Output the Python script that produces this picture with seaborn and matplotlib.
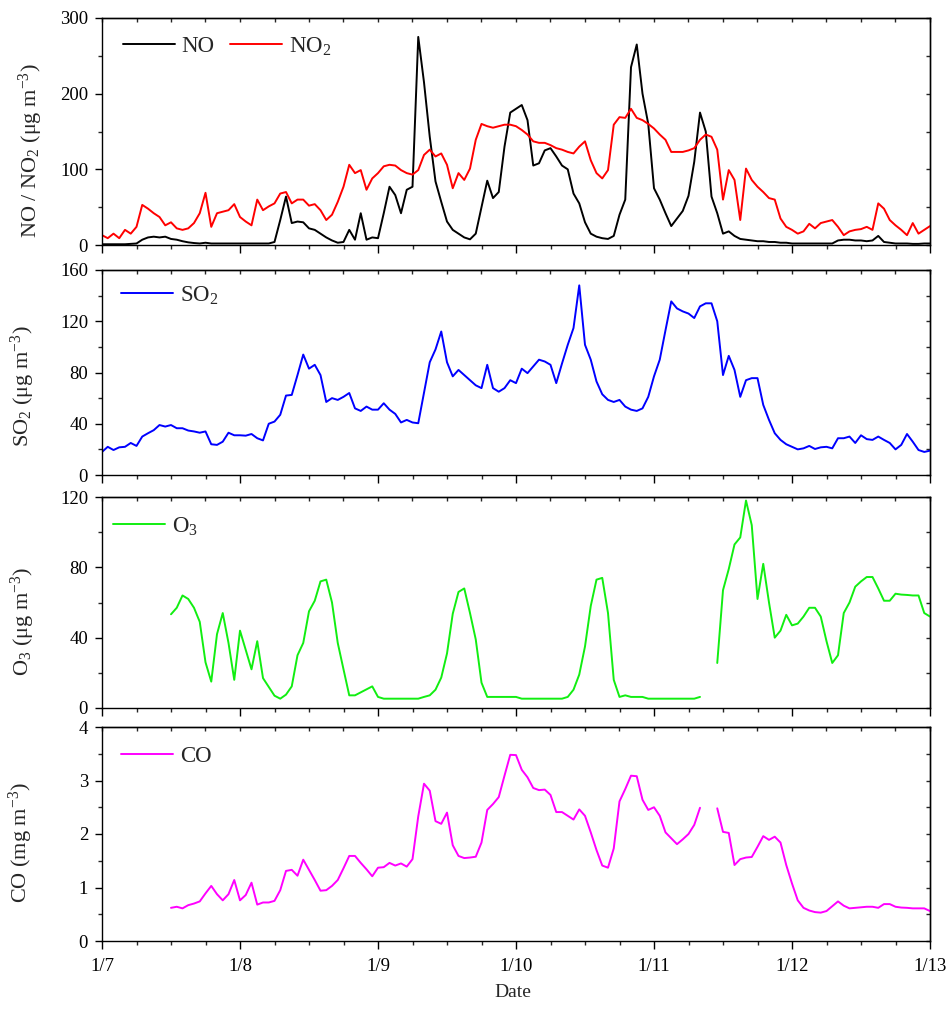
import numpy as np
import pandas as pd
import matplotlib
matplotlib.use("Agg")
import matplotlib.pyplot as plt
from matplotlib.lines import Line2D
from matplotlib.ticker import MultipleLocator
import seaborn as sns

# ---------------- data (hourly) ----------------
date_labels = ["1/7", "1/8", "1/9", "1/10", "1/11", "1/12", "1/13"]

# NO / NO2 / SO2 : hourly from 1/7 00:00 to 1/13 00:00 (145 values)
no = [1, 1, 1, 1, 1, 1.5, 2,
      7, 10, 11, 10, 11, 8, 7, 5, 3.5, 2.6, 2, 3,
      2, 2, 2, 2, 2, 2, 2, 2, 2, 2, 2,
      4, 33, 64, 29, 31, 30, 22, 20, 15, 10, 6, 3, 4, 20, 7, 42, 7, 10, 9, 42,
      77, 66, 42, 73, 77, 275, 215, 143, 84, 57, 31, 20, 15, 10, 7.5,
      15, 50, 85, 62, 70, 130, 175, 180, 185, 165, 105, 108, 125, 128, 117,
      105, 100, 68, 55, 30, 15, 11, 9, 8, 12, 40, 60, 235, 265, 200, 160,
      75, 60, 42, 25, 35, 45, 65, 110, 175, 150, 64, 42, 15, 18, 12, 8, 7,
      6, 5, 5, 4, 4, 3, 3,
      2, 2, 2, 2, 2, 2, 2, 2,
      6, 7, 7, 6, 6, 5, 6, 12, 4, 3, 2, 2, 2, 1.5, 1.5, 2, 2]

no2 = [13, 9, 15, 9, 20, 15, 24, 53, 48, 42, 37, 26, 30, 22, 20, 22, 29, 42,
       69, 24, 42, 44, 46, 54, 37, 31, 26, 60, 46, 51, 55, 68, 70, 55, 60, 60,
       52, 54, 46, 33, 40, 57, 77, 106, 95, 99, 73, 88, 95, 104, 106, 105, 99,
       95, 93, 99, 119, 126, 117, 121, 106, 75, 95, 86, 101, 139, 160, 157,
       155, 157, 159, 159, 157, 152, 146, 137, 135, 135, 132, 128, 126, 123,
       121, 130, 137, 112, 95, 88, 99, 159, 169, 168, 180, 168, 165, 160, 154,
       146, 139, 123, 123, 123, 125, 128, 139, 146, 143, 126, 60, 99, 86, 33,
       101, 86, 77, 70, 62, 60, 35, 24, 20, 15, 18, 28, 22, 29, 31, 33, 24,
       13, 18, 20, 21, 24, 20, 55, 48, 33, 26, 20, 13, 29, 15, 20, 25]

so2 = [18, 22, 19.5, 21.6, 22, 25, 22.7, 30, 32.6, 35, 39, 37.8, 39, 36.5,
       36.5, 34.7, 34, 33, 34, 24, 23.5, 26, 33, 31, 31, 30.7, 32, 28.7, 27,
       40, 41.7, 47, 62, 62.5, 78, 94, 83, 86, 78, 57, 60, 58.6, 61, 64, 52,
       50, 53.4, 51, 51, 56, 51, 47.7, 41, 43, 41, 40.4, 64, 88, 98, 112, 88,
       77, 82, 78, 74, 70, 67.8, 86, 67.8, 65, 67.8, 74, 71.7, 83, 79.5, 84.7,
       90, 88.6, 86, 71.7, 87, 101.6, 114.7, 148, 101.6, 90, 73, 63, 58.6, 57,
       58.6, 53.4, 51, 50, 52, 61, 77, 90, 113, 135.5, 130, 127.7, 126, 122.5,
       131.6, 134, 134, 120, 78, 93, 82, 61, 74, 75.6, 75.6, 54.7, 43, 32.6,
       27.4, 24, 22, 20, 20.8, 22.7, 20.3, 21.6, 22, 20.8, 28.7, 28.7, 30, 25,
       31, 28, 27.4, 30, 27.4, 25, 20, 23.5, 32, 26, 19.5, 18, 19]

# O3 / CO : hourly from 1/7 12:00 to 1/13 00:00 (133 values, NaN = missing)
o3 = [53.3, 57, 64, 62, 57, 49, 26, 15, 42, 54, 37, 16, 44, 33, 22, 38, 17,
      12, 7, 5.3, 7.6, 12.3, 30, 37, 55, 61, 72, 73, 60, 37, 22, 7.2, 7.2,
      8.9, 10.6, 12.3, 6.3, 5.3, 5.3, 5.3, 5.3, 5.3, 5.3, 5.3, 6.3, 7.2, 10.4,
      17.3, 31, 53.6, 66, 68, 54, 39, 14.4, 6.3, 6.3, 6.3, 6.3, 6.3, 6.3, 5.3,
      5.3, 5.3, 5.3, 5.3, 5.3, 5.3, 5.3, 6.3, 10.4, 19, 35, 58, 73, 74, 54,
      16, 6.3, 7.2, 6.3, 6.3, 6.3, 5.3, 5.3, 5.3, 5.3, 5.3, 5.3, 5.3, 5.3,
      5.3, 6.3, np.nan, np.nan, 25.6, 67, 79, 93, 97, 118, 104, 62, 82, 60,
      40, 44, 53, 47, 48, 52, 57, 57, 52, 38, 25.6, 30, 54, 60, 69, 72, 74.5,
      74.5, 68, 61, 61, 65, 64.5, 64.3, 64, 64, 54, 52]

co = [0.62, 0.64, 0.61, 0.67, 0.70, 0.74, 0.89, 1.03, 0.875, 0.76, 0.875,
      1.14, 0.76, 0.86, 1.09, 0.68, 0.72, 0.72, 0.75, 0.95, 1.31, 1.33, 1.22,
      1.52, 1.33, 1.14, 0.94, 0.95, 1.03, 1.14, 1.36, 1.59, 1.59, 1.46, 1.34,
      1.21, 1.37, 1.38, 1.46, 1.41, 1.45, 1.39, 1.53, 2.33, 2.94, 2.81, 2.24,
      2.19, 2.40, 1.79, 1.59, 1.55, 1.56, 1.575, 1.84, 2.45, 2.56, 2.69, 3.09,
      3.48, 3.475, 3.2, 3.06, 2.86, 2.82, 2.83, 2.73, 2.41, 2.41, 2.34, 2.27,
      2.46, 2.34, 2.03, 1.70, 1.41, 1.37, 1.73, 2.61, 2.84, 3.09, 3.08, 2.64,
      2.45, 2.5, 2.34, 2.03, 1.92, 1.81, 1.9, 2.0, 2.17, 2.49, np.nan, np.nan,
      2.48, 2.04, 2.02, 1.42, 1.53, 1.56, 1.57, 1.76, 1.96, 1.89, 1.95, 1.84,
      1.42, 1.075, 0.76, 0.62, 0.57, 0.54, 0.53, 0.56, 0.65, 0.74, 0.66, 0.61,
      0.62, 0.63, 0.64, 0.64, 0.62, 0.69, 0.69, 0.64, 0.625, 0.62, 0.61, 0.61,
      0.61, 0.56]

# ---------------- frames ----------------
t_full = np.arange(len(no)) / 24.0
t_half = (12 + np.arange(len(o3))) / 24.0

df_n = pd.DataFrame({"t": t_full, "NO": no, "NO2": no2, "SO2": so2})
df_h = pd.DataFrame({"t": t_half, "O3": o3, "CO": co})
df_h["seg"] = df_h["O3"].isna().cumsum()

# ---------------- style ----------------
sns.set_theme(style="ticks")
plt.rcParams["font.family"] = ["Liberation Serif", "DejaVu Serif"]
plt.rcParams["mathtext.fontset"] = "custom"
plt.rcParams["mathtext.rm"] = "Liberation Serif"
plt.rcParams["mathtext.it"] = "Liberation Serif:italic"
plt.rcParams["axes.linewidth"] = 1.0

W, H = 952, 1010
fig = plt.figure(figsize=(W / 100, H / 100), dpi=100)

left, right = 102, 930
boxes = [(18, 245), (270, 475), (497, 708), (727, 941)]
axes = []
for top, bot in boxes:
    ax = fig.add_axes([left / W, 1 - bot / H, (right - left) / W, (bot - top) / H])
    axes.append(ax)

c_no, c_no2, c_so2, c_o3, c_co = "#000000", "#ff0000", "#0000ff", "#11ee11", "#ff00ff"
lw = 1.4

sns.lineplot(data=df_n, x="t", y="NO", ax=axes[0], color=c_no, lw=lw)
sns.lineplot(data=df_n, x="t", y="NO2", ax=axes[0], color=c_no2, lw=lw)
sns.lineplot(data=df_n, x="t", y="SO2", ax=axes[1], color=c_so2, lw=lw)
sns.lineplot(data=df_h.dropna(), x="t", y="O3", units="seg", estimator=None,
             ax=axes[2], color=c_o3, lw=lw)
sns.lineplot(data=df_h.dropna(), x="t", y="CO", units="seg", estimator=None,
             ax=axes[3], color=c_co, lw=lw)

ylims = [(0, 300, 100, 50), (0, 160, 40, 20), (0, 120, 40, 20), (0, 4, 1, 0.5)]
ylabels = [r"NO / NO$_{\mathrm{2}}$ (μg m$^{\mathrm{-3}}$)",
           r"SO$_{\mathrm{2}}$ (μg m$^{\mathrm{-3}}$)",
           r"O$_{\mathrm{3}}$ (μg m$^{\mathrm{-3}}$)",
           r"CO (mg m$^{\mathrm{-3}}$)"]
ylab_pos = [(-0.069, 0.414), (-0.0785, 0.434), (-0.0785, 0.41), (-0.081, 0.46)]

all_x = np.arange(0, 6.01, 0.25)
for i, ax in enumerate(axes):
    lo, hi, maj, mnr = ylims[i]
    ax.set_xlim(0, 6)
    ax.set_ylim(lo, hi)
    ax.set_xticks(range(7))
    ax.xaxis.set_minor_locator(MultipleLocator(0.25))
    ax.yaxis.set_major_locator(MultipleLocator(maj))
    ax.yaxis.set_minor_locator(MultipleLocator(mnr))
    ax.tick_params(which="major", direction="out", length=5, width=1.0,
                   labelsize=13.5, pad=5, colors="black")
    ax.tick_params(which="minor", direction="out", length=3, width=1.0)
    ax.tick_params(axis="x", which="major", pad=6, length=6)
    for s in ax.spines.values():
        s.set_visible(True)
        s.set_color("black")
    if i < 3:
        ax.set_xticklabels([])
        ax.set_xlabel("")
    else:
        ax.set_xticklabels(date_labels)
        ax.set_xlabel("Date", fontsize=14)
        ax.xaxis.set_label_coords(0.496, -0.200)
    ax.set_ylabel(ylabels[i], fontsize=16)
    ax.yaxis.set_label_coords(*ylab_pos[i])

    # inward ticks on top and right
    secx = ax.secondary_xaxis("top")
    secx.set_xticks(all_x)
    secx.set_xticklabels([])
    secx.tick_params(direction="in", length=3, width=1.0)
    secy = ax.secondary_yaxis("right")
    secy.set_yticks(np.arange(lo, hi + mnr / 2, mnr))
    secy.set_yticklabels([])
    secy.tick_params(direction="in", length=3, width=1.0)

# legends
def add_legend(ax, items, x, y):
    handles = [Line2D([], [], color=c, lw=1.4) for c, _ in items]
    labels = [l for _, l in items]
    ax.legend(handles, labels, loc="center left", bbox_to_anchor=(x, y),
              frameon=False, fontsize=16.5, ncol=len(items), handlelength=2.27,
              handletextpad=0.3, columnspacing=0.65, borderpad=0,
              borderaxespad=0)

add_legend(axes[0], [(c_no, "NO"), (c_no2, r"NO$_{\mathrm{2}}$")], 0.025, 0.875)
add_legend(axes[1], [(c_so2, r"SO$_{\mathrm{2}}$")], 0.023, 0.875)
add_legend(axes[2], [(c_o3, r"O$_{\mathrm{3}}$")], 0.0133, 0.86)
add_legend(axes[3], [(c_co, "CO")], 0.023, 0.864)

fig.savefig("out.png", dpi=100)
